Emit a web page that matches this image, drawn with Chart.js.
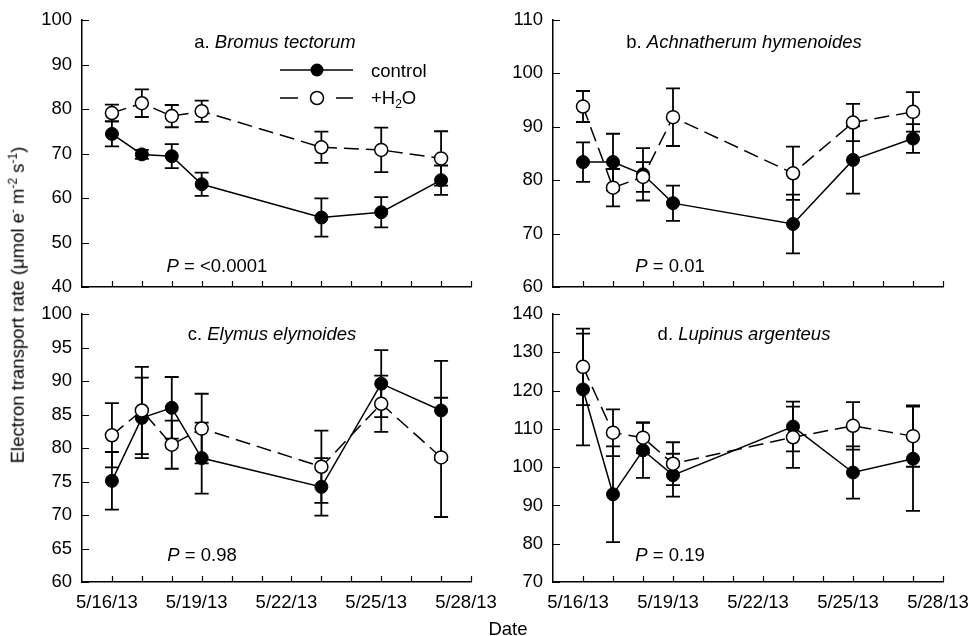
<!DOCTYPE html>
<html lang="en">
<head>
    <meta charset="UTF-8">
    <title>Electron transport rate</title>
    <script src="https://cdn.jsdelivr.net/npm/chart.js"></script>
    <style>
        body {
            margin: 0;
            background: #fff;
            font-family: "Liberation Sans", Arial, sans-serif;
        }
        .figure {
            position: relative;
            width: 969px;
            height: 636px;
            overflow: hidden;
            background: #fff;
        }
        .figure canvas {
            position: absolute;
        }
        .txt {
            position: absolute;
            font-size: 18.5px;
            color: #000;
            white-space: nowrap;
            line-height: 1;
            transform: translate(-50%, -50%);
        }
        .left {
            transform: translate(0, -50%);
        }
        .ytitle {
            transform: translate(-50%, -50%) rotate(-90deg);
        }
        sup, sub {
            font-size: 12px;
            line-height: 0;
        }
    </style>
</head>
<body>
    <div class="figure">
        <canvas id="panelA" width="490" height="300" style="left:0;top:0"></canvas>
        <canvas id="panelB" width="479" height="300" style="left:490px;top:0"></canvas>
        <canvas id="panelC" width="520" height="336" style="left:0;top:300px"></canvas>
        <canvas id="panelD" width="479" height="336" style="left:490px;top:300px"></canvas>

        <div class="txt" style="left:275px;top:42px">a. <i>Bromus tectorum</i></div>
        <div class="txt" style="left:744px;top:42px">b. <i>Achnatherum hymenoides</i></div>
        <div class="txt" style="left:272px;top:334px">c. <i>Elymus elymoides</i></div>
        <div class="txt" style="left:744px;top:334px">d. <i>Lupinus argenteus</i></div>

        <div class="txt" style="left:217px;top:266px"><i>P</i> = &lt;0.0001</div>
        <div class="txt" style="left:670px;top:266px"><i>P</i> = 0.01</div>
        <div class="txt" style="left:202px;top:555px"><i>P</i> = 0.98</div>
        <div class="txt" style="left:670px;top:555px"><i>P</i> = 0.19</div>

        <div class="txt left" style="left:371px;top:71px">control</div>
        <div class="txt left" style="left:371px;top:98px">+H<sub>2</sub>O</div>

        <div class="txt ytitle" style="left:18px;top:305px">Electron transport rate (&mu;mol e<sup>-</sup> m<sup>-2</sup> s<sup>-1</sup>)</div>
        <div class="txt" style="left:508px;top:629px">Date</div>
    </div>

    <script>
        // sampling dates (day of May 2013)
        const days = [16, 17, 18, 19, 23, 25, 27];
        const minorDays = [16, 17, 18, 19, 20, 21, 22, 23, 24, 25, 26, 27, 28];
        const labelDays = [16, 19, 22, 25, 28];
        const dateLabels = ['5/16/13', '5/19/13', '5/22/13', '5/25/13', '5/28/13'];

        // a. Bromus tectorum
        const ctrlA = [74.4, 69.8, 69.4, 63.1, 55.6, 56.8, 64.0];
        const ctrlAErr = [2.8, 1.0, 2.7, 2.6, 4.3, 3.4, 3.3];
        const h2oA = [79.1, 81.3, 78.4, 79.5, 71.4, 70.8, 68.9];
        const h2oAErr = [1.9, 3.1, 2.5, 2.4, 3.5, 5.0, 6.1];

        // b. Achnatherum hymenoides
        const ctrlB = [83.4, 83.4, 81.1, 75.7, 71.8, 83.8, 87.8];
        const ctrlBErr = [3.7, 5.3, 4.9, 3.3, 5.5, 6.3, 2.7];
        const h2oB = [93.8, 78.6, 80.6, 91.8, 81.3, 90.8, 92.8];
        const h2oBErr = [2.9, 3.5, 2.8, 5.4, 5.0, 3.5, 3.7];

        // c. Elymus elymoides
        const ctrlC = [75.1, 84.5, 86.0, 78.5, 74.2, 89.6, 85.6];
        const ctrlCErr = [4.3, 6.0, 4.6, 5.3, 4.3, 5.0, 7.4];
        const h2oC = [81.9, 85.6, 80.5, 82.9, 77.2, 86.6, 78.6];
        const h2oCErr = [4.8, 6.5, 3.6, 5.2, 5.4, 4.2, 8.9];

        // d. Lupinus argenteus
        const ctrlD = [120.3, 92.9, 104.4, 97.9, 110.6, 98.6, 102.2];
        const ctrlDErr = [14.6, 12.5, 7.2, 5.6, 6.5, 6.8, 13.6];
        const h2oD = [126.2, 109.0, 107.7, 100.9, 107.8, 110.8, 108.1];
        const h2oDErr = [10.0, 6.1, 4.0, 5.6, 8.0, 6.2, 8.0];

        Chart.defaults.font.family = '"Liberation Sans", Arial, sans-serif';
        Chart.defaults.font.size = 18.5;
        Chart.defaults.color = '#000';

        // error bars go under the lines and markers
        const errorBars = {
            id: 'errorBars',
            beforeDatasetsDraw(chart) {
                const { ctx, scales: { x, y } } = chart;
                ctx.save();
                ctx.strokeStyle = '#000';
                ctx.lineWidth = 1.8;
                chart.data.datasets.forEach(ds => {
                    ds.data.forEach((p, i) => {
                        const px = x.getPixelForValue(p.x);
                        const top = y.getPixelForValue(p.y + ds.err[i]);
                        const bot = y.getPixelForValue(p.y - ds.err[i]);
                        ctx.beginPath();
                        ctx.moveTo(px, top); ctx.lineTo(px, bot);
                        ctx.moveTo(px - 7, top); ctx.lineTo(px + 7, top);
                        ctx.moveTo(px - 7, bot); ctx.lineTo(px + 7, bot);
                        ctx.stroke();
                    });
                });
                ctx.restore();
            }
        };

        // tick marks point into the plot
        const innerTicks = {
            id: 'innerTicks',
            beforeDatasetsDraw(chart) {
                const { ctx, chartArea, scales: { x, y } } = chart;
                ctx.save();
                ctx.strokeStyle = '#000';
                ctx.lineWidth = 1.2;
                ctx.beginPath();
                minorDays.forEach(d => {
                    const px = Math.round(x.getPixelForValue(d)) + 0.5;
                    ctx.moveTo(px, chartArea.bottom);
                    ctx.lineTo(px, chartArea.bottom - 6);
                });
                y.ticks.forEach(t => {
                    const py = Math.round(y.getPixelForValue(t.value)) + 0.5;
                    ctx.moveTo(chartArea.left, py);
                    ctx.lineTo(chartArea.left + 7, py);
                });
                ctx.stroke();
                ctx.restore();
            }
        };

        // legend samples for panel a
        const legendMarks = {
            id: 'legendMarks',
            afterDatasetsDraw(chart) {
                const ctx = chart.ctx;
                ctx.save();
                ctx.strokeStyle = '#000';
                ctx.lineWidth = 1.5;
                ctx.beginPath();
                ctx.moveTo(280, 70); ctx.lineTo(353, 70);
                ctx.stroke();
                ctx.beginPath();
                ctx.arc(317, 70, 6.5, 0, Math.PI * 2);
                ctx.fillStyle = '#000';
                ctx.fill();
                ctx.beginPath();
                ctx.moveTo(280, 98); ctx.lineTo(298, 98);
                ctx.moveTo(336, 98); ctx.lineTo(353, 98);
                ctx.stroke();
                ctx.beginPath();
                ctx.arc(317, 98, 6.5, 0, Math.PI * 2);
                ctx.fillStyle = '#fff';
                ctx.fill();
                ctx.stroke();
                ctx.restore();
            }
        };

        function toPoints(vals) {
            return vals.map((v, i) => ({ x: days[i], y: v }));
        }

        function makePanel(id, ctrl, ctrlErr, h2o, h2oErr, yMin, yMax, yStep, area, showDates, extra) {
            const canvas = document.getElementById(id);
            const W = canvas.width, H = canvas.height;
            const yW = 50, xH = showDates ? 40 : 0;
            new Chart(canvas.getContext('2d'), {
                type: 'scatter',
                data: {
                    datasets: [{
                        label: 'control',
                        data: toPoints(ctrl),
                        err: ctrlErr,
                        showLine: true,
                        borderColor: '#000',
                        borderWidth: 1.5,
                        pointRadius: 6.5,
                        pointBackgroundColor: '#000',
                        pointBorderColor: '#000',
                        pointBorderWidth: 1,
                        order: 2
                    }, {
                        label: '+H2O',
                        data: toPoints(h2o),
                        err: h2oErr,
                        showLine: true,
                        borderColor: '#000',
                        borderWidth: 1.5,
                        borderDash: [15, 7],
                        pointRadius: 6.5,
                        pointBackgroundColor: '#fff',
                        pointBorderColor: '#000',
                        pointBorderWidth: 1.5,
                        order: 1
                    }]
                },
                options: {
                    responsive: false,
                    animation: false,
                    events: [],
                    layout: {
                        padding: {
                            left: area.left - yW,
                            right: W - area.right,
                            top: area.top,
                            bottom: H - area.bottom - xH
                        }
                    },
                    plugins: {
                        legend: { display: false },
                        tooltip: { enabled: false }
                    },
                    scales: {
                        x: {
                            type: 'linear',
                            min: 15,
                            max: 28,
                            grid: { display: false, drawTicks: false },
                            border: { color: '#000', width: 1.5 },
                            afterBuildTicks: s => { s.ticks = labelDays.map(v => ({ value: v })); },
                            afterFit: s => { s.height = xH; s.paddingLeft = 0; s.paddingRight = 0; },
                            ticks: {
                                display: showDates,
                                padding: 10,
                                labelOffset: -5,
                                maxRotation: 0,
                                autoSkip: false,
                                callback: v => dateLabels[labelDays.indexOf(v)]
                            }
                        },
                        y: {
                            min: yMin,
                            max: yMax,
                            grid: { display: false, drawTicks: false },
                            border: { color: '#000', width: 1.5 },
                            afterFit: s => { s.width = yW; s.paddingTop = 0; s.paddingBottom = 0; },
                            ticks: { stepSize: yStep, padding: 10 }
                        }
                    }
                },
                plugins: [errorBars, innerTicks].concat(extra || [])
            });
        }

        makePanel('panelA', ctrlA, ctrlAErr, h2oA, h2oAErr, 40, 100, 10,
            { left: 82, right: 471, top: 20, bottom: 287 }, false, [legendMarks]);
        makePanel('panelB', ctrlB, ctrlBErr, h2oB, h2oBErr, 60, 110, 10,
            { left: 63, right: 453, top: 20, bottom: 287 }, false);
        makePanel('panelC', ctrlC, ctrlCErr, h2oC, h2oCErr, 60, 100, 5,
            { left: 82, right: 471, top: 14, bottom: 282 }, true);
        makePanel('panelD', ctrlD, ctrlDErr, h2oD, h2oDErr, 70, 140, 10,
            { left: 63, right: 453, top: 14, bottom: 282 }, true);
    </script>
</body>
</html>
